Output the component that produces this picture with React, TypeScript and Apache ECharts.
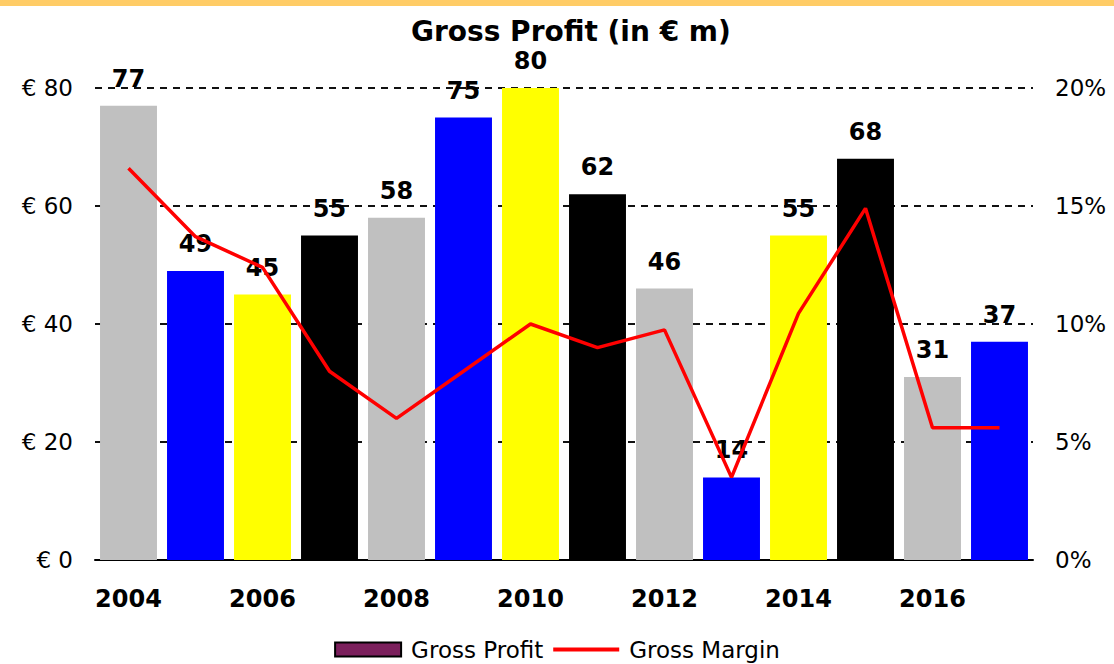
import React, { useEffect, useRef } from "react";
import * as echarts from "echarts";

const years = ["2004", "2005", "2006", "2007", "2008", "2009", "2010", "2011", "2012", "2013", "2014", "2015", "2016", "2017"];
const grossProfit = [77, 49, 45, 55, 58, 75, 80, 62, 46, 14, 55, 68, 31, 37];
const grossMargin = [16.6, 13.7, 12.4, 8.0, 6.0, 8.0, 10.0, 9.0, 9.75, 3.5, 10.45, 14.9, 5.6, 5.6];
const barColors = ["#C0C0C0", "#0000FF", "#FFFF00", "#000000"];

const FONT = "DejaVu Sans";

export default function App() {
  const ref = useRef<HTMLDivElement>(null);
  useEffect(() => {
    document.body.style.margin = "0";
    const chart = echarts.init(ref.current!, null, { renderer: "svg" });
    chart.setOption({
      animation: false,
      backgroundColor: "#FFFFFF",
      graphic: [
        { type: "rect", left: 0, top: 0, shape: { width: 1114, height: 6 }, style: { fill: "#FFCC66" }, z: 10 },
      ],
      title: {
        text: "Gross Profit (in € m)",
        left: 406,
        top: 12,
        textStyle: { fontFamily: FONT, fontSize: 28, fontWeight: "bold", color: "#000" },
      },
      legend: {
        top: 633,
        left: "center",
        itemWidth: 66,
        itemHeight: 14,
        itemGap: 10,
        textStyle: { fontFamily: FONT, fontSize: 23, color: "#000", padding: [0, 0, 0, 5] },
        data: [
          { name: "Gross Profit", icon: "rect", itemStyle: { color: "#7B1F5C", borderColor: "#000", borderWidth: 2 } },
          { name: "Gross Margin", icon: "path://M0,0 L66,0 L66,4 L0,4 Z", itemStyle: { color: "#FF0000", borderWidth: 0 } },
        ],
      },
      grid: { left: 95, right: 81, top: 88, bottom: 104 },
      xAxis: {
        type: "category",
        data: years,
        axisLine: { lineStyle: { color: "#000", width: 2 } },
        axisTick: { show: false },
        axisLabel: {
          interval: 1,
          margin: 27,
          fontFamily: FONT,
          fontSize: 24,
          fontWeight: "bold",
          color: "#000",
        },
      },
      yAxis: [
        {
          type: "value",
          min: 0,
          max: 80,
          interval: 20,
          axisLine: { show: false },
          axisTick: { show: false },
          axisLabel: { formatter: "€ {value}", margin: 22, fontFamily: FONT, fontSize: 23, color: "#000" },
          splitLine: { lineStyle: { color: "#111", width: 2, type: [7, 6] } },
        },
        {
          type: "value",
          min: 0,
          max: 20,
          interval: 5,
          axisLine: { show: false },
          axisTick: { show: false },
          axisLabel: { formatter: "{value}%", margin: 22, fontFamily: FONT, fontSize: 23, color: "#000" },
          splitLine: { show: false },
        },
      ],
      series: [
        {
          name: "Gross Profit",
          type: "bar",
          barCategoryGap: "15%",
          data: grossProfit.map((v, i) => ({ value: v, itemStyle: { color: barColors[i % 4] } })),
          label: {
            show: true,
            position: "top",
            distance: 15,
            fontFamily: FONT,
            fontSize: 24,
            fontWeight: "bold",
            color: "#000",
          },
          z: 2,
        },
        {
          name: "Gross Margin",
          type: "line",
          yAxisIndex: 1,
          data: grossMargin,
          symbol: "none",
          lineStyle: { color: "#FF0000", width: 3.5 },
          itemStyle: { color: "#FF0000" },
          z: 5,
        },
      ],
    });
    return () => chart.dispose();
  }, []);
  return <div ref={ref} style={{ width: 1114, height: 664 }} />;
}
